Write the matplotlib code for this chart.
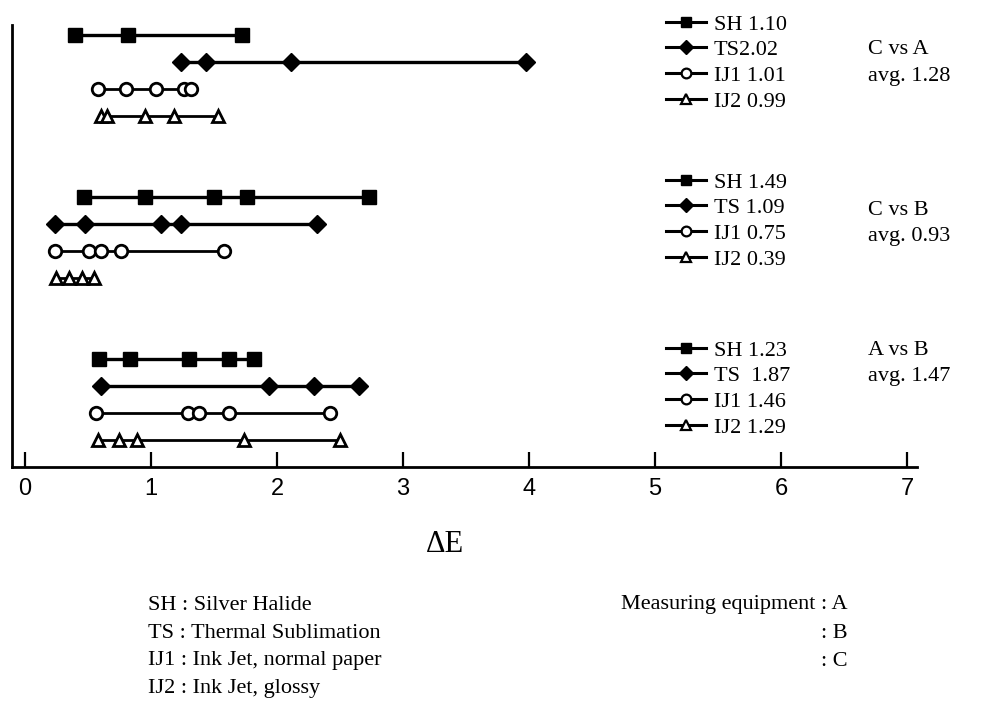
import matplotlib
matplotlib.use("Agg")
import matplotlib.pyplot as plt
from matplotlib.lines import Line2D

# comparison groups (measuring equipment pairs) and their averages
groups = ["C vs A", "C vs B", "A vs B"]
group_avg = ["avg. 1.28", "avg. 0.93", "avg. 1.47"]

# delta E values per print type, one list per group
sh = [[0.40, 0.82, 1.72], [0.47, 0.95, 1.50, 1.76, 2.73], [0.59, 0.83, 1.30, 1.62, 1.82]]
ts = [[1.24, 1.44, 2.11, 3.98], [0.24, 0.48, 1.08, 1.24, 2.32], [0.60, 1.94, 2.29, 2.65]]
ij1 = [[0.58, 0.80, 1.04, 1.26, 1.32], [0.24, 0.51, 0.60, 0.76, 1.58], [0.56, 1.29, 1.38, 1.62, 2.42]]
ij2 = [[0.60, 0.65, 0.95, 1.18, 1.53], [0.25, 0.35, 0.45, 0.55], [0.58, 0.75, 0.89, 1.74, 2.50]]

legend_labels = [
    ["SH 1.10", "TS2.02", "IJ1 1.01", "IJ2 0.99"],
    ["SH 1.49", "TS 1.09", "IJ1 0.75", "IJ2 0.39"],
    ["SH 1.23", "TS  1.87", "IJ1 1.46", "IJ2 1.29"],
]
xticks = [0, 1, 2, 3, 4, 5, 6, 7]

key_lines = [
    "SH : Silver Halide",
    "TS : Thermal Sublimation",
    "IJ1 : Ink Jet, normal paper",
    "IJ2 : Ink Jet, glossy",
]
equip_lines = ["Measuring equipment : A", ": B", ": C"]

W, H = 982, 715
serif = "Liberation Serif"

styles = [
    dict(marker="s", ms=10, mfc="black", mec="black", lw=2.4),
    dict(marker="D", ms=9, mfc="black", mec="black", lw=2.4),
    dict(marker="o", ms=9, mfc="white", mec="black", mew=2.0, lw=2.0),
    dict(marker="^", ms=9, mfc="white", mec="black", mew=2.0, lw=2.0),
]
series = [sh, ts, ij1, ij2]

fig = plt.figure(figsize=(W / 100, H / 100), dpi=100)
ax = fig.add_axes([12 / W, 1 - 467 / H, 905 / W, 442 / H])

for g in range(len(groups)):
    for r, s in enumerate(series):
        vals = s[g]
        ax.plot(vals, [g * 6 + r] * len(vals), color="black", **styles[r])

ax.set_xlim(-0.103, 7.079)
ax.set_ylim(16.0, -0.37)
ax.set_xticks(xticks)
ax.set_xticklabels([str(t) for t in xticks], fontsize=17, family="Liberation Sans")
ax.set_yticks([])
ax.tick_params(axis="x", direction="in", length=11, width=1.6, pad=8)
for side in ["top", "right"]:
    ax.spines[side].set_visible(False)
for side in ["left", "bottom"]:
    ax.spines[side].set_linewidth(2.0)

# one legend per group
legend_tops = [14, 172, 340]
for g in range(len(groups)):
    handles = []
    for r in range(4):
        st = dict(styles[r])
        st["ms"] = 7
        st["lw"] = 2.2
        if "mew" in st:
            st["mew"] = 1.6
        handles.append(Line2D([], [], color="black", **st))
    leg = ax.legend(
        handles, legend_labels[g],
        loc="upper left",
        bbox_to_anchor=(666 / W, 1 - legend_tops[g] / H),
        bbox_transform=fig.transFigure,
        frameon=False, borderpad=0, borderaxespad=0,
        handlelength=1.8, handletextpad=0.35, labelspacing=0.23,
        prop={"family": serif, "size": 16},
    )
    ax.add_artist(leg)
ax.legend_ = None

label_y = [50, 210, 350]
for g in range(len(groups)):
    fig.text(868 / W, 1 - label_y[g] / H, groups[g], family=serif, fontsize=16, va="center")
    fig.text(868 / W, 1 - (label_y[g] + 26) / H, group_avg[g], family=serif, fontsize=16, va="center")

fig.text(445 / W, 1 - 545 / H, "ΔE", family=serif, fontsize=22, ha="center", va="center")

for i, line in enumerate(key_lines):
    fig.text(148 / W, 1 - (605 + 28 * i) / H, line, family=serif, fontsize=16, va="center")
for i, line in enumerate(equip_lines):
    fig.text(848 / W, 1 - (605 + 28 * i) / H, line, family=serif, fontsize=16, va="center", ha="right")

fig.savefig("out.png", dpi=100)
